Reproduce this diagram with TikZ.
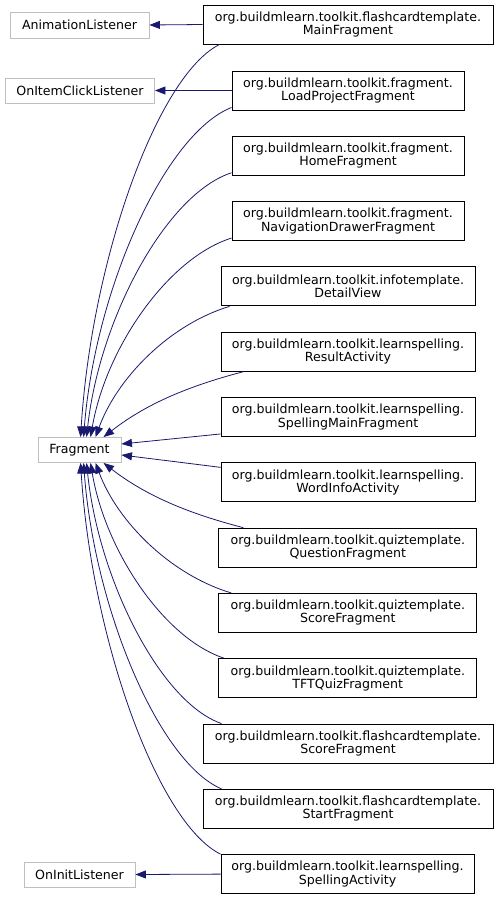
\documentclass[tikz,border=0pt]{standalone}
\usepackage{fontspec}
\setmainfont{DejaVu Sans}
\usetikzlibrary{arrows.meta,calc}
\definecolor{edgeblue}{HTML}{191970}
\definecolor{graybox}{HTML}{BFBFBF}
\tikzset{
  cls/.style={draw=black,line width=0.9pt,fill=white,inner sep=0pt,align=center,
    minimum height=39pt,font=\fontsize{12.6}{11.5}\selectfont},
  ext/.style={draw=graybox,line width=0.9pt,fill=white,inner sep=0pt,align=center,
    minimum height=25pt,font=\fontsize{12.6}{11.5}\selectfont},
  edge/.style={draw=edgeblue,line width=0.8pt,-{Triangle[length=10.5pt,width=8pt]}},
}
% #1 start, #2 end, #3 fraction for second control point (x), #4 fraction for first control point (y)
\newcommand\inhcurve[4]{\draw[edge] let \p1=(#1), \p2=(#2) in (\p1) .. controls ({\x1+0.45*(\x2-\x1)},{\y1+#4*(\y2-\y1)}) and ({\x2-#3*(\x2-\x1)},{\y1+0.55*(\y2-\y1)}) .. (\p2);}
\begin{document}
\begin{tikzpicture}[x=1pt,y=-1pt]
\useasboundingbox (0,0) rectangle (499,900);
\fill[white] (0,0) rectangle (499,900);
% left nodes
\node[ext,minimum width=139pt,minimum height=26pt] (anim) at (79.5,25) {AnimationListener};
\node[ext,minimum width=149pt] (onitem) at (80,90.5) {OnItemClickListener};
\node[ext,minimum width=83pt] (frag) at (79.5,450) {Fragment};
\node[ext,minimum width=111pt] (oninit) at (79.5,874.5) {OnInitListener};
% right nodes
\node[cls,minimum width=290pt] (n1) at (348,24.5) {org.buildmlearn.toolkit.flashcardtemplate.\\MainFragment};
\node[cls,minimum width=232pt] (n2) at (348,90.5) {org.buildmlearn.toolkit.fragment.\\LoadProjectFragment};
\node[cls,minimum width=232pt] (n3) at (348,155.8) {org.buildmlearn.toolkit.fragment.\\HomeFragment};
\node[cls,minimum width=232pt] (n4) at (348,221.1) {org.buildmlearn.toolkit.fragment.\\NavigationDrawerFragment};
\node[cls,minimum width=254pt] (n5) at (348,286.4) {org.buildmlearn.toolkit.infotemplate.\\DetailView};
\node[cls,minimum width=254pt] (n6) at (348,351.7) {org.buildmlearn.toolkit.learnspelling.\\ResultActivity};
\node[cls,minimum width=254pt] (n7) at (348,417) {org.buildmlearn.toolkit.learnspelling.\\SpellingMainFragment};
\node[cls,minimum width=254pt] (n8) at (348,482.3) {org.buildmlearn.toolkit.learnspelling.\\WordInfoActivity};
\node[cls,minimum width=258pt] (n9) at (347.8,547.6) {org.buildmlearn.toolkit.quiztemplate.\\QuestionFragment};
\node[cls,minimum width=258pt] (n10) at (347.8,612.9) {org.buildmlearn.toolkit.quiztemplate.\\ScoreFragment};
\node[cls,minimum width=258pt] (n11) at (347.8,678.2) {org.buildmlearn.toolkit.quiztemplate.\\TFTQuizFragment};
\node[cls,minimum width=290pt] (n12) at (348,743.5) {org.buildmlearn.toolkit.flashcardtemplate.\\ScoreFragment};
\node[cls,minimum width=290pt] (n13) at (348,808.8) {org.buildmlearn.toolkit.flashcardtemplate.\\StartFragment};
\node[cls,minimum width=253pt] (n14) at (347.5,874.1) {org.buildmlearn.toolkit.learnspelling.\\SpellingActivity};
% start points
\coordinate (s1) at ($(n1.south west)+(17,0)$);
\coordinate (s2) at ($(n2.south west)+(0,-3)$);
\coordinate (s3) at ($(n3.south west)+(0,-3)$);
\coordinate (s4) at ($(n4.south west)+(0,-3)$);
\coordinate (s5) at ($(n5.south west)+(9,0)$);
\coordinate (s6) at ($(n6.south west)+(23,0)$);
\coordinate (s7) at ($(n7.south west)+(0,-3)$);
\coordinate (s8) at ($(n8.north west)+(0,5)$);
\coordinate (s9) at ($(n9.north west)+(25,0)$);
\coordinate (s10) at ($(n10.north west)+(13,0)$);
\coordinate (s11) at ($(n11.north west)+(6,0)$);
\coordinate (s12) at ($(n12.north west)+(19,0)$);
\coordinate (s13) at ($(n13.north west)+(19,0)$);
\coordinate (s14) at (n14.north west);
% end points on Fragment
\coordinate (t1) at ($(frag.north west)+(43,0)$);
\coordinate (t2) at ($(frag.north west)+(46,0)$);
\coordinate (t3) at ($(frag.north west)+(49,0)$);
\coordinate (t4) at ($(frag.north west)+(53,0)$);
\coordinate (t5) at ($(frag.north west)+(58,0)$);
\coordinate (t6) at ($(frag.north west)+(66,0)$);
\coordinate (t7) at ($(frag.east)+(0,-6)$);
\coordinate (t8) at ($(frag.east)+(0,5)$);
\coordinate (t9) at ($(frag.south west)+(66,0)$);
\coordinate (t10) at ($(frag.south west)+(58,0)$);
\coordinate (t11) at ($(frag.south west)+(53,0)$);
\coordinate (t12) at ($(frag.south west)+(49,0)$);
\coordinate (t13) at ($(frag.south west)+(46,0)$);
\coordinate (t14) at ($(frag.south west)+(43,0)$);
% straight edges
\draw[edge] (n1.west) -- (anim.east);
\draw[edge] (n2.west) -- (onitem.east);
\draw[edge] (n14.west) -- (oninit.east);
\draw[edge] (s7) -- (t7);
\draw[edge] (s8) -- (t8);
% curved edges
\inhcurve{s1}{t1}{0.08}{0.08}
\inhcurve{s2}{t2}{0.08}{0.08}
\inhcurve{s3}{t3}{0.09}{0.08}
\inhcurve{s4}{t4}{0.11}{0.1}
\inhcurve{s5}{t5}{0.16}{0.14}
\inhcurve{s6}{t6}{0.27}{0.25}
\inhcurve{s9}{t9}{0.27}{0.25}
\inhcurve{s10}{t10}{0.16}{0.14}
\inhcurve{s11}{t11}{0.11}{0.1}
\inhcurve{s12}{t12}{0.09}{0.08}
\inhcurve{s13}{t13}{0.08}{0.08}
\inhcurve{s14}{t14}{0.08}{0.08}
\end{tikzpicture}
\end{document}
